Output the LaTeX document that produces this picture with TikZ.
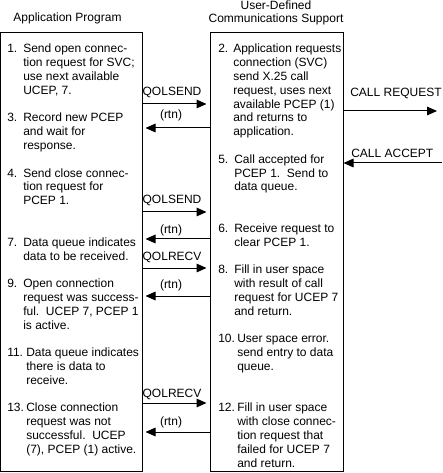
\documentclass[tikz,border=0pt]{standalone}
\usepackage{fontspec}
\setmainfont{Liberation Sans}
\usetikzlibrary{arrows.meta}
\newcommand{\itmtext}[1]{\parbox[t]{100pt}{\raggedright\fontsize{9}{10.35}\selectfont #1}}
\begin{document}
\begin{tikzpicture}[x=0.75pt,y=-0.75pt,
  font=\fontsize{9}{10.35}\selectfont,
  box/.style={draw, line width=0.75pt, inner sep=0pt, outer sep=0pt, anchor=north west, minimum height=329.25pt},
  num/.style={anchor=base west, inner sep=0pt},
  txt/.style={anchor=base west, inner sep=0pt},
  lab/.style={anchor=base, inner sep=0pt},
  arr/.style={line width=0.75pt, -{Triangle[length=7.5pt,width=6.5pt]}}]
\useasboundingbox (0,0) rectangle (442,473);

% titles
\node[lab] (tapp) at (67.5,22) {Application Program};
\node[anchor=base, inner sep=0pt] (tucs) at (276,9.5) {\parbox[t]{120pt}{\centering\fontsize{9}{9.75}\selectfont User-Defined\\Communications Support}};

% boxes
\node[box, minimum width=106.5pt] (app) at (0.5,32.5) {};
\node[box, minimum width=99.75pt] (ucs) at (210.5,32.5) {};

% left column
\node[num] (n1) at (7,53) {1.};
\node[txt] (x1) at (23,53) {\itmtext{Send open connec-\\tion request for SVC;\\use next available\\UCEP, 7.}};
\node[num] (n3) at (7,122) {3.};
\node[txt] (x3) at (23,122) {\itmtext{Record new PCEP\\and wait for\\response.}};
\node[num] (n4) at (7,177.2) {4.};
\node[txt] (x4) at (23,177.2) {\itmtext{Send close connec-\\tion request for\\PCEP 1.}};
\node[num] (n7) at (7,246.2) {7.};
\node[txt] (x7) at (23,246.2) {\itmtext{Data queue indicates\\data to be received.}};
\node[num] (n9) at (7,287.6) {9.};
\node[txt] (x9) at (23,287.6) {\itmtext{Open connection\\request was success-\\ful.\ \ UCEP 7, PCEP 1\\is active.}};
\node[num] (n11) at (7,356.6) {11.};
\node[txt] (x11) at (26,356.6) {\itmtext{Data queue indicates\\there is data to\\receive.}};
\node[num] (n13) at (7,411.8) {13.};
\node[txt] (x13) at (26,411.8) {\itmtext{Close connection\\request was not\\successful.\ \ UCEP\\(7), PCEP (1) active.}};

% right column
\node[num] (n2) at (218,53) {2.};
\node[txt] (x2) at (233,53) {\itmtext{Application requests\\connection (SVC)\\send X.25 call\\request, uses next\\available PCEP (1)\\and returns to\\application.}};
\node[num] (n5) at (218,163.4) {5.};
\node[txt] (x5) at (234,163.4) {\itmtext{Call accepted for\\PCEP 1.\ \ Send to\\data queue.}};
\node[num] (n6) at (218,232.4) {6.};
\node[txt] (x6) at (234,232.4) {\itmtext{Receive request to\\clear PCEP 1.}};
\node[num] (n8) at (218,273.8) {8.};
\node[txt] (x8) at (234,273.8) {\itmtext{Fill in user space\\with result of call\\request for UCEP 7\\and return.}};
\node[num] (n10) at (218,342.8) {10.};
\node[txt] (x10) at (237,342.8) {\itmtext{User space error.\\send entry to data\\queue.}};
\node[num] (n12) at (218,411.8) {12.};
\node[txt] (x12) at (237,411.8) {\itmtext{Fill in user space\\with close connec-\\tion request that\\failed for UCEP 7\\and return.}};

% arrow labels
\node[lab] (l1) at (172,96) {QOLSEND};
\node[lab] (l2) at (171,119) {(rtn)};
\node[lab] (l3) at (172,204) {QOLSEND};
\node[lab] (l4) at (171,234) {(rtn)};
\node[lab] (l5) at (172,261) {QOLRECV};
\node[lab] (l6) at (171,288) {(rtn)};
\node[lab] (l7) at (172,397) {QOLRECV};
\node[lab] (l8) at (171,425) {(rtn)};
\node[anchor=base west, inner sep=0pt] (lcr) at (350,97) {CALL REQUEST};
\node[anchor=base west, inner sep=0pt] (lca) at (351,158) {CALL ACCEPT};

% arrows
\draw[arr, shorten >=3pt] (app.east |- 0,104) -- (ucs.west |- 0,104);
\draw[arr, shorten >=2.25pt] (ucs.west |- 0,128) -- (app.east |- 0,128);
\draw[arr, shorten >=3pt] (app.east |- 0,212) -- (ucs.west |- 0,212);
\draw[arr, shorten >=2.25pt] (ucs.west |- 0,239) -- (app.east |- 0,239);
\draw[arr, shorten >=3pt] (app.east |- 0,268) -- (ucs.west |- 0,268);
\draw[arr, shorten >=2.25pt] (ucs.west |- 0,296) -- (app.east |- 0,296);
\draw[arr, shorten >=3pt] (app.east |- 0,403) -- (ucs.west |- 0,403);
\draw[arr, shorten >=2.25pt] (ucs.west |- 0,432) -- (app.east |- 0,432);

\coordinate (crend) at (437,111);
\coordinate (castart) at (442,163);
\draw[arr] (ucs.east |- crend) -- (crend);
\draw[arr] (castart) -- (ucs.east |- castart);
\end{tikzpicture}
\end{document}
